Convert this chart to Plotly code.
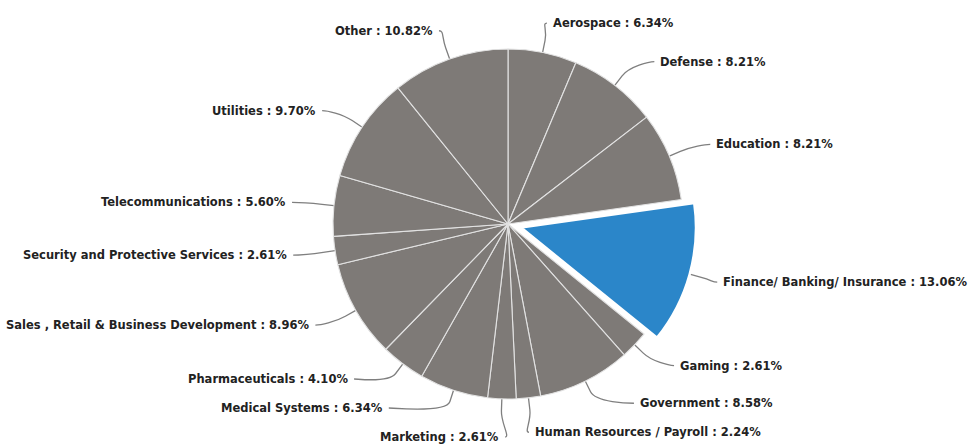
import math
import plotly.graph_objects as go

# Share of projects by industry (percent)
industries = [
    "Aerospace", "Defense", "Education", "Finance/ Banking/ Insurance", "Gaming",
    "Government", "Human Resources / Payroll", "Marketing", "Medical Systems",
    "Pharmaceuticals", "Sales , Retail & Business Development",
    "Security and Protective Services", "Telecommunications", "Utilities", "Other",
]
shares = [6.34, 8.21, 8.21, 13.06, 2.61, 8.58, 2.24, 2.61, 6.34, 4.10, 8.96, 2.61, 5.60, 9.70, 10.82]
highlighted = "Finance/ Banking/ Insurance"

# ---- layout / style ----
W, H = 976, 448
CX, CY, R = 508, 224, 175          # pie centre and radius (px)
PULL = 0.077                        # fraction of radius for the highlighted slice
LABEL_DIST = 30                     # natural label distance beyond the rim
TEXT_RADIUS = 222                   # radius of the circle the label edges sit on
PAD = 5                             # gap between label and connector end
MIN_GAP = 29                        # minimum vertical spacing between labels
Y_MIN, Y_MAX = 18, 437
CONNECTOR_OFFSET = 12
GREY = "#7e7a77"
BLUE = "#2b86c9"
LINE_GREY = "#7f7f7f"

half = R * (1 + PULL)
domain_x = [(CX - half) / W, (CX + half) / W]
domain_y = [1 - (CY + half) / H, 1 - (CY - half) / H]


def px(x, y):
    return x / W, 1 - y / H


def spread(targets, gap, lo, hi):
    """Place sorted targets with a minimum gap, staying as close as possible."""
    blocks = []
    for t in targets:
        blocks.append({"n": 1, "sum": t})
        while True:
            b = blocks[-1]
            b["start"] = min(max(b["sum"] / b["n"], lo), hi - (b["n"] - 1) * gap)
            if len(blocks) < 2:
                break
            a = blocks[-2]
            if a["start"] + a["n"] * gap > b["start"]:
                a["sum"] += b["sum"] - b["n"] * a["n"] * gap
                a["n"] += b["n"]
                blocks.pop()
            else:
                break
    out = []
    for b in blocks:
        out += [b["start"] + k * gap for k in range(b["n"])]
    return out


total = sum(shares)
info = []
cum = 0.0
for name, v in zip(industries, shares):
    mid = math.radians((cum + v / 2) / total * 360)
    cum += v
    s, c = math.sin(mid), -math.cos(mid)
    off = PULL * R if name == highlighted else 0.0
    info.append({
        "name": name, "v": v, "s": s, "c": c, "off": off,
        "side": "right" if s >= 0 else "left",
        "ny": CY + (R + LABEL_DIST + off) * c,
    })

for side in ("right", "left"):
    group = sorted([d for d in info if d["side"] == side], key=lambda d: d["ny"])
    ys = spread([d["ny"] for d in group], MIN_GAP, Y_MIN, Y_MAX)
    for d, y in zip(group, ys):
        d["y"] = y

annotations, shapes = [], []
for d in info:
    sign = 1 if d["side"] == "right" else -1
    dy = d["y"] - CY
    if abs(dy) > 0.85 * TEXT_RADIUS:
        tx = CX + TEXT_RADIUS * d["s"]
    else:
        tx = CX + sign * math.sqrt(TEXT_RADIUS ** 2 - dy ** 2)
    ax, ay = px(tx, d["y"])
    annotations.append(dict(
        x=ax, y=ay, xref="paper", yref="paper",
        xanchor="left" if sign > 0 else "right", yanchor="middle",
        text=f"{d['name']} : {d['v']:.2f}%", showarrow=False,
        font=dict(family="DejaVu Sans", size=11.5, color="#222222", weight="bold"),
        borderpad=0,
    ))
    # connector: label -> soft break -> slice rim
    lx, ly = tx - sign * PAD, d["y"]
    ex = CX + (R + d["off"]) * d["s"]
    ey = CY + (R + d["off"]) * d["c"]
    bx = CX + (R + d["off"] + CONNECTOR_OFFSET) * d["s"]
    by = CY + (R + d["off"] + CONNECTOR_OFFSET) * d["c"]
    c1 = px(lx - sign * 5, ly)
    c2 = px(2 * bx - ex, 2 * by - ey)
    p0, pb, pe = px(lx, ly), px(bx, by), px(ex, ey)
    path = (f"M {p0[0]:.5f} {p0[1]:.5f} C {c1[0]:.5f} {c1[1]:.5f} "
            f"{c2[0]:.5f} {c2[1]:.5f} {pb[0]:.5f} {pb[1]:.5f} L {pe[0]:.5f} {pe[1]:.5f}")
    shapes.append(dict(type="path", xref="paper", yref="paper", path=path,
                       line=dict(color=LINE_GREY, width=1.3), layer="below"))

colors = [BLUE if n == highlighted else GREY for n in industries]
line_colors = ["#ffffff" if n == highlighted else "#e2e2e2" for n in industries]
line_widths = [2.5 if n == highlighted else 1.1 for n in industries]
pulls = [PULL if n == highlighted else 0 for n in industries]

fig = go.Figure(go.Pie(
    labels=industries, values=shares, sort=False, direction="clockwise", rotation=0,
    pull=pulls, textinfo="none", showlegend=False,
    marker=dict(colors=colors, line=dict(color=line_colors, width=line_widths)),
    domain=dict(x=domain_x, y=domain_y),
    hovertemplate="%{label}: %{value:.2f}%<extra></extra>",
))
fig.update_layout(
    width=W, height=H, margin=dict(l=0, r=0, t=0, b=0),
    paper_bgcolor="white", plot_bgcolor="white",
    annotations=annotations, shapes=shapes,
)
fig.write_html("out.html", config={"displayModeBar": False})
